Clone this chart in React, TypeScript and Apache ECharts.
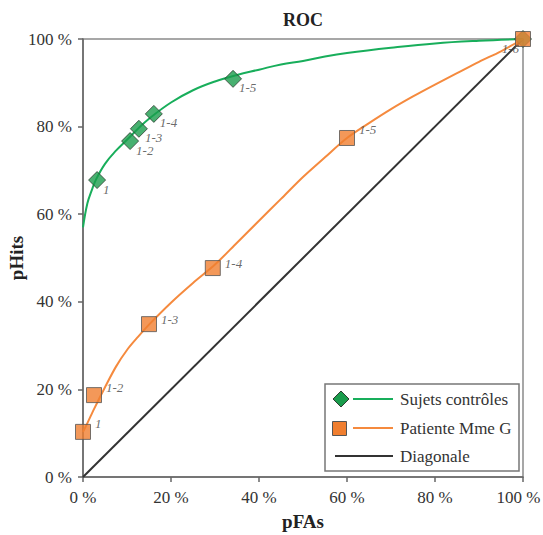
import React, { useEffect, useRef } from "react";
import * as echarts from "echarts";

// Fitted ROC curves (pFA %, pHit %)
const controlCurveX = [0, 1, 2, 3, 5, 7.5, 10, 12.5, 15, 20, 25, 30, 35, 40, 45, 50, 55, 60, 70, 80, 90, 100];
const controlCurveY = [57, 62.5, 65.5, 68, 71.5, 74.5, 77, 79.5, 81.8, 85.5, 88.3, 90.3, 91.8, 93, 94.2, 95, 96, 96.8, 98, 99, 99.6, 100];
const patientCurveX = [0, 1, 2.5, 5, 7.5, 10, 12.5, 15, 20, 25, 30, 35, 40, 45, 50, 55, 60, 65, 70, 75, 80, 85, 90, 95, 100];
const patientCurveY = [10.3, 12.3, 15.5, 20.5, 25.2, 29, 32, 34.8, 39.8, 44.3, 48.5, 53.5, 58.5, 63.5, 68.5, 73, 77.4, 80.8, 84, 86.9, 89.6, 92.2, 94.8, 97.2, 100];

// Observed points
const pointLabels = ["1", "1-2", "1-3", "1-4", "1-5", "1-6"];
const controlPFA = [3.2, 10.7, 12.7, 16.1, 34.1, 100];
const controlPHit = [67.8, 76.7, 79.5, 82.9, 90.9, 100];
const patientPFA = [0, 2.5, 15, 29.5, 60, 100];
const patientPHit = [10.3, 18.7, 34.9, 47.7, 77.4, 100];

const diagonalX = [0, 100];
const diagonalY = [0, 100];

const axisTicks = [0, 20, 40, 60, 80, 100];

const legendNames = ["Sujets contrôles", "Patiente Mme G", "Diagonale"];

const GREEN = "#18AE5B";
const GREEN_FILL = "#1A9C4C";
const ORANGE = "#F58A3E";
const ORANGE_FILL = "#F07E2F";
const FONT = "Liberation Serif";

export default function App() {
  const ref = useRef<HTMLDivElement>(null);
  useEffect(() => {
    if (!ref.current) return;
    const chart = echarts.init(ref.current, undefined, { renderer: "svg" });
    const zip = (xs: number[], ys: number[]) => xs.map((x, i) => [x, ys[i]]);
    const maxTick = axisTicks[axisTicks.length - 1];
    const axisCommon = {
      type: "value" as const,
      min: axisTicks[0],
      max: maxTick,
      interval: axisTicks[1] - axisTicks[0],
      splitLine: { show: false },
      axisLine: { show: true, lineStyle: { color: "#666", width: 1.5 } },
      axisTick: { show: true, inside: false, length: 5, lineStyle: { color: "#666", width: 1.5 } },
      axisLabel: {
        formatter: "{value} %",
        fontFamily: FONT,
        fontSize: 17,
        color: "#333",
      },
      nameTextStyle: { fontFamily: FONT, fontSize: 19, fontWeight: "bold" as const, color: "#222" },
      nameLocation: "middle" as const,
      nameMoveOverlap: false,
    };
    const lx = 325, ly = 384;
    const legendFont = `17px "${FONT}"`;
    chart.setOption({
      animation: false,
      backgroundColor: "#fff",
      textStyle: { fontFamily: FONT },
      grid: {
        left: 83,
        right: 20,
        top: 39,
        bottom: 58,
        containLabel: false,
        outerBoundsMode: "none",
        show: true,
        borderColor: "#8a8a8a",
        borderWidth: 1.5,
        backgroundColor: "transparent",
      },
      xAxis: {
        ...axisCommon,
        name: "pFAs",
        nameGap: 35,
        axisLabel: {
          ...axisCommon.axisLabel,
          margin: 12,
          formatter: (v: number) => (v === maxTick ? `{r|${v} %}` : `${v} %`),
          rich: {
            r: { fontFamily: FONT, fontSize: 17, color: "#333", padding: [0, 9, 0, 0] },
          },
        },
      },
      yAxis: {
        ...axisCommon,
        name: "pHits",
        nameGap: 57,
        axisLabel: { ...axisCommon.axisLabel, margin: 11 },
      },
      series: [
        {
          name: legendNames[2],
          type: "line",
          data: zip(diagonalX, diagonalY),
          showSymbol: false,
          lineStyle: { color: "#333", width: 2 },
          z: 1,
        },
        {
          name: legendNames[0],
          type: "line",
          data: zip(controlCurveX, controlCurveY),
          smooth: 0.4,
          showSymbol: false,
          lineStyle: { color: GREEN, width: 2 },
          z: 2,
        },
        {
          name: legendNames[1],
          type: "line",
          data: zip(patientCurveX, patientCurveY),
          smooth: 0.3,
          showSymbol: false,
          lineStyle: { color: ORANGE, width: 2 },
          z: 2,
        },
        {
          name: legendNames[0] + " points",
          type: "scatter",
          clip: false,
          symbol: "diamond",
          symbolSize: 17,
          itemStyle: { color: GREEN_FILL, borderColor: "#2d3d30", borderWidth: 1 },
          data: controlPFA.map((x, i) => ({
            name: pointLabels[i],
            value: [x, controlPHit[i]],
            label: { show: i < 5 },
          })),
          label: {
            show: true,
            position: "right",
            distance: 0,
            offset: [-3, 9],
            formatter: "{b}",
            fontFamily: FONT,
            fontStyle: "italic",
            fontSize: 13,
            color: "#444",
          },
          z: 3,
        },
        {
          name: legendNames[1] + " points",
          type: "scatter",
          clip: false,
          symbol: "rect",
          symbolSize: 15,
          itemStyle: { color: ORANGE_FILL, borderColor: "#555", borderWidth: 1 },
          data: patientPFA.map((x, i) => ({
            name: pointLabels[i],
            value: [x, patientPHit[i]],
            label:
              i === 5
                ? { position: "left", distance: 0, offset: [4, 9] }
                : { position: "right", distance: 2, offset: [2, i === 0 || i === 1 || i === 4 ? -8 : -5] },
          })),
          label: {
            show: true,
            formatter: "{b}",
            fontFamily: FONT,
            fontStyle: "italic",
            fontSize: 13,
            color: "#444",
          },
          z: 4,
        },
      ],
      graphic: [
        {
          type: "text",
          x: 303,
          y: 20,
          style: {
            text: "ROC",
            font: `bold 18px "${FONT}"`,
            fill: "#222",
            align: "center",
            verticalAlign: "middle",
          },
        },
        {
          type: "rect",
          shape: { x: lx, y: ly, width: 194, height: 87 },
          style: { fill: "#fff", stroke: "#777", lineWidth: 1.5 },
          z: 10,
        },
        {
          type: "polygon",
          shape: { points: [[341, 391], [349, 399], [341, 407], [333, 399]] },
          style: { fill: GREEN_FILL, stroke: "#2d3d30", lineWidth: 1 },
          z: 11,
        },
        { type: "line", shape: { x1: 353, y1: 399, x2: 393, y2: 399 }, style: { stroke: GREEN, lineWidth: 2 }, z: 11 },
        {
          type: "text",
          x: 400,
          y: 399,
          style: { text: legendNames[0], font: legendFont, fill: "#333", verticalAlign: "middle" },
          z: 11,
        },
        {
          type: "rect",
          shape: { x: 332.5, y: 421.5, width: 14, height: 14 },
          style: { fill: ORANGE_FILL, stroke: "#555", lineWidth: 1 },
          z: 11,
        },
        { type: "line", shape: { x1: 353, y1: 428, x2: 393, y2: 428 }, style: { stroke: ORANGE, lineWidth: 2 }, z: 11 },
        {
          type: "text",
          x: 400,
          y: 428,
          style: { text: legendNames[1], font: legendFont, fill: "#333", verticalAlign: "middle" },
          z: 11,
        },
        { type: "line", shape: { x1: 335, y1: 456, x2: 393, y2: 456 }, style: { stroke: "#333", lineWidth: 2 }, z: 11 },
        {
          type: "text",
          x: 400,
          y: 456,
          style: { text: legendNames[2], font: legendFont, fill: "#333", verticalAlign: "middle" },
          z: 11,
        },
      ],
    });
    return () => chart.dispose();
  }, []);
  return (
    <div
      ref={ref}
      style={{ position: "fixed", left: 0, top: 0, width: 543, height: 535, background: "#fff" }}
    />
  );
}
